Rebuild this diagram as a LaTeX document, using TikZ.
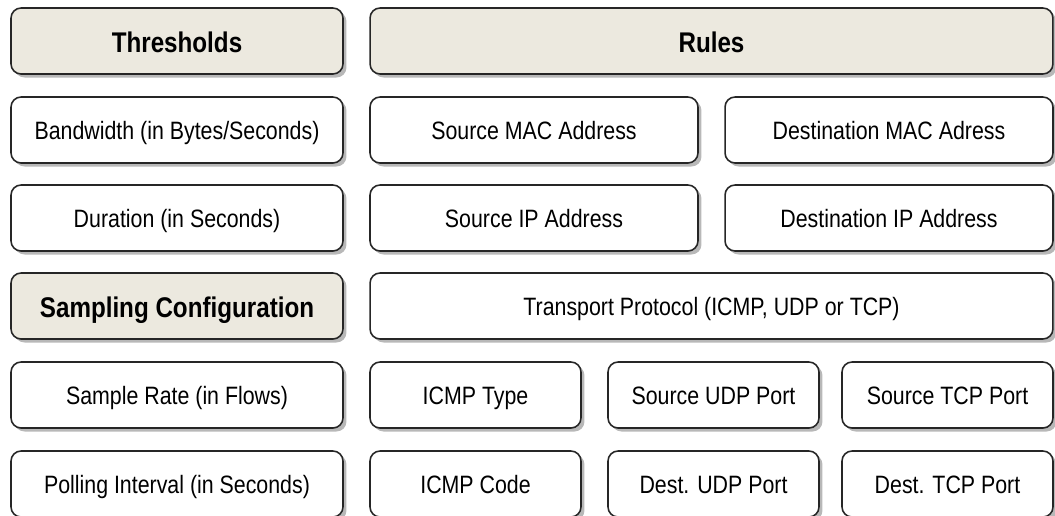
\documentclass[tikz,border=0pt]{standalone}
\usepackage{fontspec}
\setmainfont[FakeStretch=0.85]{Liberation Sans}
\usetikzlibrary{shadows}
\definecolor{headfill}{HTML}{ECE9DF}

\begin{document}
\begin{tikzpicture}[x=0.02cm,y=-0.02cm,
    field/.style={draw=black!85, line width=0.9pt, rounded corners=0.2cm, fill=white,
      minimum height=1.32cm, inner sep=0pt, text height=11.5pt, text depth=0.3pt,
      font=\fontsize{14.3}{16}\selectfont,
      drop shadow={shadow xshift=0.07cm, shadow yshift=-0.07cm, fill=black!28, opacity=1}},
    head/.style={field, fill=headfill, text height=12.9pt,
      font=\fontsize{16.2}{18}\selectfont\bfseries},
    leftcol/.style={minimum width=6.64cm},
    fullcol/.style={minimum width=13.66cm},
    halfcol/.style={minimum width=6.56cm},
    thirdcol/.style={minimum width=4.22cm}]
    \useasboundingbox (0,0) rectangle (1055,515);

    % left column
    \node[head, leftcol] (thresholds) at (177,41) {Thresholds};
    \node[field, leftcol] (bandwidth) at (177,130) {Bandwidth (in Bytes/Seconds)};
    \node[field, leftcol] (duration) at (177,218) {Duration (in Seconds)};
    \node[head, leftcol] (sampling) at (177,306) {Sampling Configuration};
    \node[field, leftcol] (rate) at (177,395) {Sample Rate (in Flows)};
    \node[field, leftcol] (polling) at (177,484) {Polling Interval (in Seconds)};

    % right column
    \node[head, fullcol] (rules) at (711.5,41) {Rules};
    \node[field, halfcol] (srcmac) at (534,130) {Source MAC Address};
    \node[field, halfcol] (dstmac) at (889,130) {Destination MAC Adress};
    \node[field, halfcol] (srcip) at (534,218) {Source IP Address};
    \node[field, halfcol] (dstip) at (889,218) {Destination IP Address};
    \node[field, fullcol] (proto) at (711.5,306) {Transport Protocol (ICMP, UDP or TCP)};
    \node[field, thirdcol] (icmptype) at (475.5,395) {ICMP Type};
    \node[field, thirdcol] (srcudp) at (713.5,395) {Source UDP Port};
    \node[field, thirdcol] (srctcp) at (947.5,395) {Source TCP Port};
    \node[field, thirdcol] (icmpcode) at (475.5,484) {ICMP Code};
    \node[field, thirdcol] (dstudp) at (713.5,484) {Dest. UDP Port};
    \node[field, thirdcol] (dsttcp) at (947.5,484) {Dest. TCP Port};
\end{tikzpicture}
\end{document}
